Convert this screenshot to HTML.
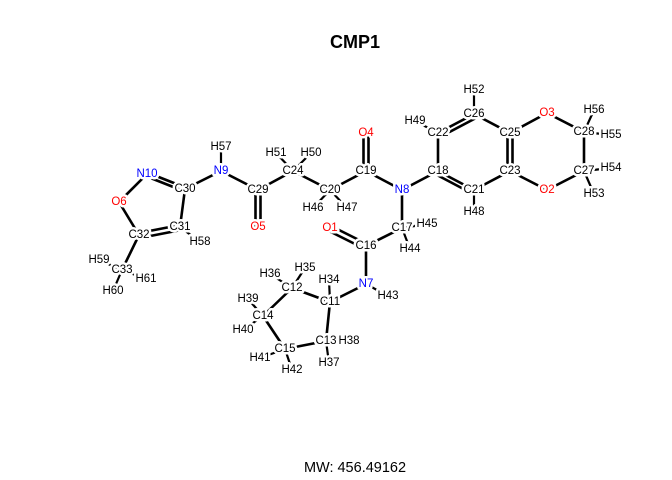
<!DOCTYPE html>
<html><head><meta charset="utf-8"><style>
html,body{margin:0;padding:0;background:#fff;}
svg{display:block;}
text{font-family:"Liberation Sans",sans-serif;font-size:11.5px;text-anchor:middle;dominant-baseline:central;paint-order:stroke;stroke:#fff;stroke-width:5px;stroke-linejoin:round;}
.r{fill:#f00}.b{fill:#00f}.k{fill:#000}
line{stroke:#000;stroke-width:2.6;}
line.h{stroke-width:2.2}
</style></head><body>
<svg width="672" height="480" viewBox="0 0 672 480">
<g>
<!-- double bonds -->
<line x1="146" y1="172" x2="184" y2="187"/><line x1="148" y1="177" x2="186" y2="192"/>
<line x1="139" y1="233" x2="180" y2="225"/><line x1="140" y1="238" x2="181" y2="230"/>
<line x1="255.5" y1="190" x2="255.5" y2="227"/><line x1="260.5" y1="190" x2="260.5" y2="227"/>
<line x1="363.5" y1="133" x2="363.5" y2="171"/><line x1="368.5" y1="133" x2="368.5" y2="171"/>
<line x1="367" y1="244" x2="331" y2="226"/><line x1="365" y1="249" x2="329" y2="231"/>
<line x1="438" y1="133" x2="474" y2="114"/><line x1="440" y1="137" x2="476" y2="118"/>
<line x1="438" y1="171" x2="474" y2="190"/><line x1="437" y1="175" x2="473" y2="194"/>
<line x1="507.5" y1="133" x2="507.5" y2="171"/><line x1="512.5" y1="133" x2="512.5" y2="171"/>
<!-- single bonds -->
<line x1="147" y1="174" x2="119" y2="202"/>
<line x1="119" y1="202" x2="139" y2="235"/>
<line x1="185" y1="189" x2="180" y2="227"/>
<line x1="185" y1="189" x2="221" y2="171"/>
<line x1="139" y1="235" x2="122" y2="270"/>
<line class="h" x1="180" y1="227" x2="200" y2="242"/>
<line class="h" x1="122" y1="270" x2="99" y2="260"/>
<line class="h" x1="122" y1="270" x2="113" y2="291"/>
<line class="h" x1="122" y1="270" x2="146" y2="279"/>
<line class="h" x1="221" y1="171" x2="221" y2="147"/>
<line x1="221" y1="171" x2="258" y2="190"/>
<line x1="258" y1="190" x2="293" y2="171"/>
<line x1="293" y1="171" x2="330" y2="190"/>
<line class="h" x1="293" y1="171" x2="276" y2="153"/>
<line class="h" x1="293" y1="171" x2="311" y2="153"/>
<line x1="330" y1="190" x2="366" y2="171"/>
<line class="h" x1="330" y1="190" x2="313" y2="208"/>
<line class="h" x1="330" y1="190" x2="347" y2="208"/>
<line x1="366" y1="171" x2="402" y2="190"/>
<line x1="402" y1="190" x2="438" y2="171"/>
<line x1="402" y1="190" x2="402" y2="228"/>
<line x1="438" y1="171" x2="438" y2="133"/>
<line x1="474" y1="114" x2="510" y2="133"/>
<line x1="510" y1="171" x2="474" y2="190"/>
<line class="h" x1="438" y1="133" x2="415" y2="121"/>
<line class="h" x1="474" y1="114" x2="474" y2="90"/>
<line class="h" x1="474" y1="190" x2="474" y2="212"/>
<line x1="510" y1="133" x2="547" y2="113"/>
<line x1="547" y1="113" x2="584" y2="132"/>
<line x1="584" y1="132" x2="584" y2="171"/>
<line x1="584" y1="171" x2="547" y2="190"/>
<line x1="547" y1="190" x2="510" y2="171"/>
<line class="h" x1="584" y1="132" x2="594" y2="110"/>
<line class="h" x1="584" y1="132" x2="611" y2="135"/>
<line class="h" x1="584" y1="171" x2="611" y2="168"/>
<line class="h" x1="584" y1="171" x2="594" y2="194"/>
<line x1="402" y1="228" x2="366" y2="246"/>
<line class="h" x1="402" y1="228" x2="427" y2="224"/>
<line class="h" x1="402" y1="228" x2="410" y2="249"/>
<line x1="366" y1="246" x2="366" y2="284"/>
<line class="h" x1="366" y1="284" x2="388" y2="296"/>
<line x1="366" y1="284" x2="330" y2="302"/>
<line class="h" x1="330" y1="302" x2="329" y2="280"/>
<line x1="330" y1="302" x2="292" y2="288"/>
<line x1="330" y1="302" x2="326" y2="341"/>
<line x1="292" y1="288" x2="263" y2="316"/>
<line class="h" x1="292" y1="288" x2="305" y2="268"/>
<line class="h" x1="292" y1="288" x2="270" y2="274"/>
<line x1="263" y1="316" x2="285" y2="349"/>
<line class="h" x1="263" y1="316" x2="248" y2="299"/>
<line class="h" x1="263" y1="316" x2="243" y2="330"/>
<line x1="285" y1="349" x2="326" y2="341"/>
<line class="h" x1="285" y1="349" x2="260" y2="358"/>
<line class="h" x1="285" y1="349" x2="292" y2="370"/>
<line class="h" x1="326" y1="341" x2="349" y2="341"/>
<line class="h" x1="326" y1="341" x2="329" y2="363"/>
</g>
<g class="k">
<text x="185" y="189">C30</text><text class="b" x="147" y="174">N10</text><text class="r" x="119" y="202">O6</text>
<text x="139" y="235">C32</text><text x="180" y="227">C31</text><text x="200" y="242">H58</text>
<text x="122" y="270">C33</text><text x="99" y="260">H59</text><text x="113" y="291">H60</text><text x="146" y="279">H61</text>
<text class="b" x="221" y="171">N9</text><text x="221" y="147">H57</text>
<text x="258" y="190">C29</text><text class="r" x="258" y="227">O5</text>
<text x="293" y="171">C24</text><text x="276" y="153">H51</text><text x="311" y="153">H50</text>
<text x="330" y="190">C20</text><text x="313" y="208">H46</text><text x="347" y="208">H47</text>
<text x="366" y="171">C19</text><text class="r" x="366" y="133">O4</text>
<text class="b" x="402" y="190">N8</text>
<text x="438" y="171">C18</text><text x="438" y="133">C22</text><text x="474" y="114">C26</text>
<text x="510" y="133">C25</text><text x="510" y="171">C23</text><text x="474" y="190">C21</text>
<text x="415" y="121">H49</text><text x="474" y="90">H52</text><text x="474" y="212">H48</text>
<text class="r" x="547" y="113">O3</text><text x="584" y="132">C28</text><text x="584" y="171">C27</text><text class="r" x="547" y="190">O2</text>
<text x="594" y="110">H56</text><text x="611" y="135">H55</text><text x="611" y="168">H54</text><text x="594" y="194">H53</text>
<text x="402" y="228">C17</text><text x="427" y="224">H45</text><text x="410" y="249">H44</text>
<text x="366" y="246">C16</text><text class="r" x="330" y="228">O1</text>
<text class="b" x="366" y="284">N7</text><text x="388" y="296">H43</text>
<text x="330" y="302">C11</text><text x="329" y="280">H34</text>
<text x="292" y="288">C12</text><text x="305" y="268">H35</text><text x="270" y="274">H36</text>
<text x="263" y="316">C14</text><text x="248" y="299">H39</text><text x="243" y="330">H40</text>
<text x="285" y="349">C15</text><text x="260" y="358">H41</text><text x="292" y="370">H42</text>
<text x="326" y="341">C13</text><text x="349" y="341">H38</text><text x="329" y="363">H37</text>
</g>
<text x="355" y="42" style="font-size:18px;font-weight:bold;stroke:none">CMP1</text>
<text x="355" y="468" style="font-size:14.5px;stroke:none">MW: 456.49162</text>
</svg>
</body></html>
